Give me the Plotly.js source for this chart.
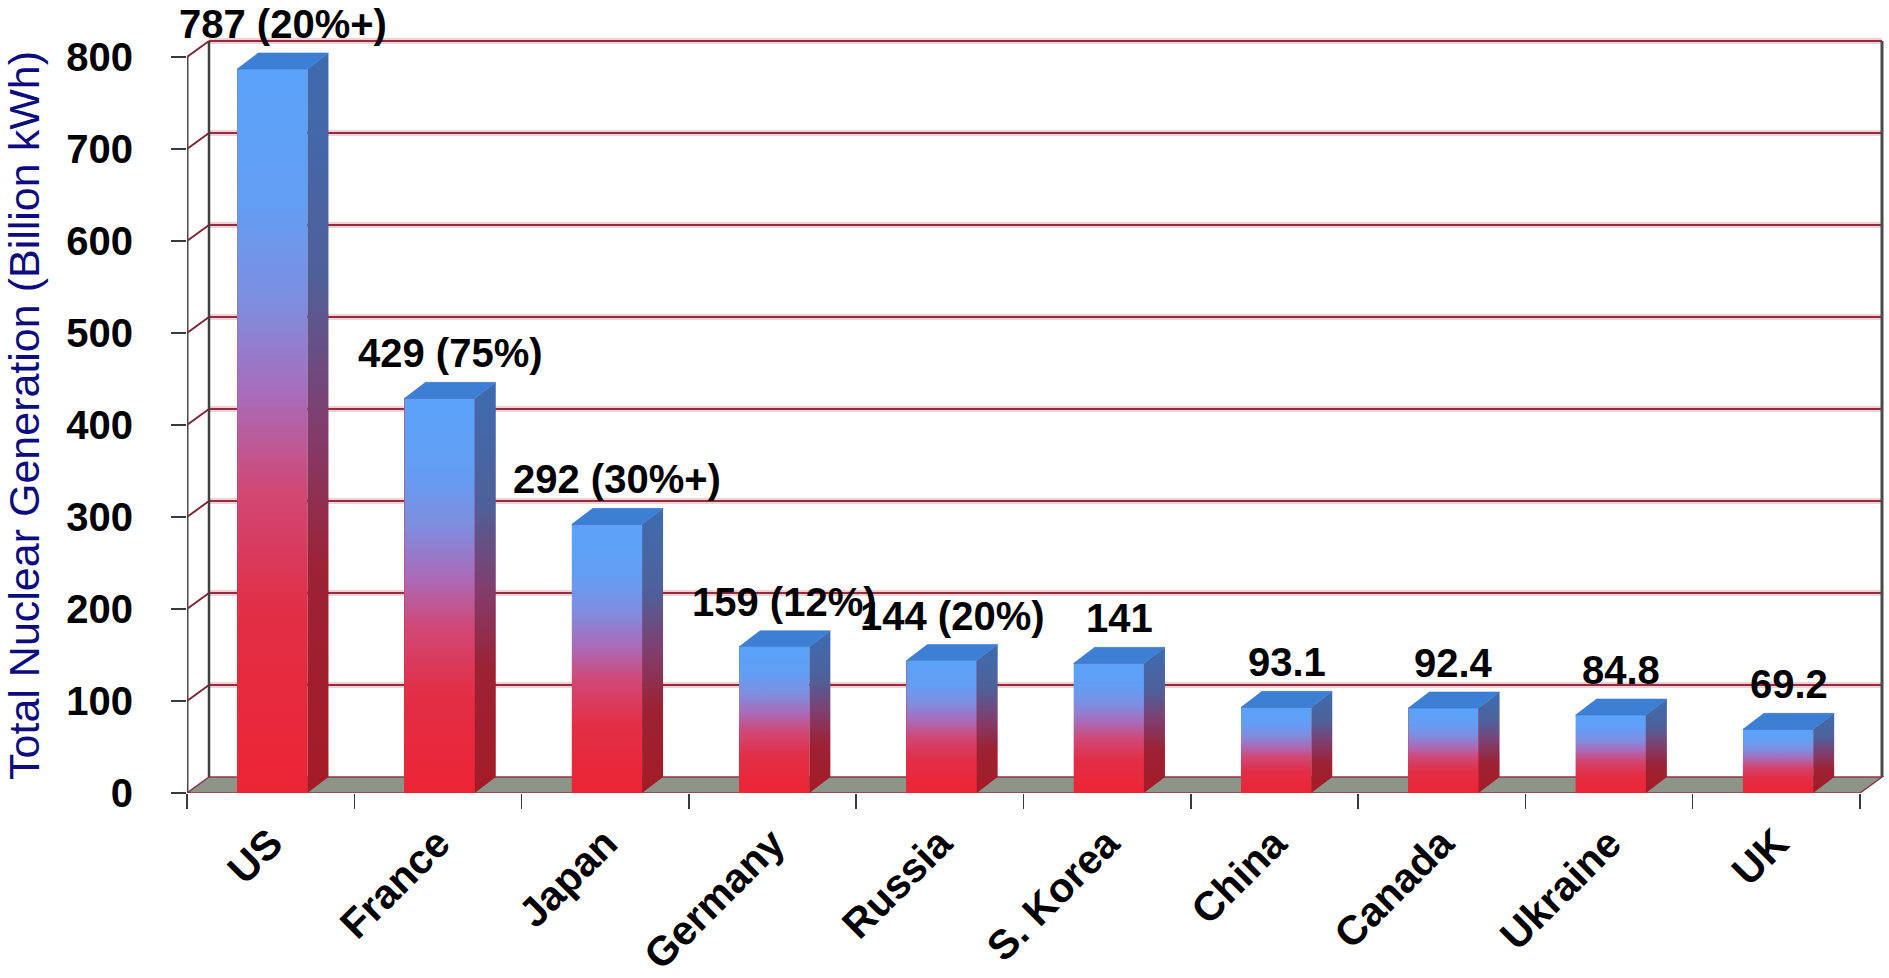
<!DOCTYPE html>
<html>
<head>
<meta charset="utf-8">
<script src="https://cdn.plot.ly/plotly-3.0.1.min.js"></script>
<style>
  html, body { margin: 0; padding: 0; background: #ffffff; }
  #chart { width: 1889px; height: 978px; }
</style>
</head>
<body>
<div id="chart"></div>
<script>
// ---- data ----
const categories = ['US', 'France', 'Japan', 'Germany', 'Russia', 'S. Korea', 'China', 'Canada', 'Ukraine', 'UK'];
const generation = [787, 429, 292, 159, 144, 141, 93.1, 92.4, 84.8, 69.2];
const valueLabels = ['787 (20%+)', '429 (75%)', '292 (30%+)', '159 (12%)', '144 (20%)', '141', '93.1', '92.4', '84.8', '69.2'];
const yTickValues = [0, 100, 200, 300, 400, 500, 600, 700, 800];
const yTitle = 'Total Nuclear Generation (Billion kWh)';

// ---- geometry / style ----
const W = 1889, H = 978;
const M = { l: 187, r: 3, t: 38, b: 185 };
const pxPerX = 167.3, pxPerY = 0.92;
const plotW = W - M.l - M.r, plotH = H - M.t - M.b;
const xRange = [-0.5, -0.5 + plotW / pxPerX];
const yRange = [0, plotH / pxPerY];
const DX = 21 / pxPerX, DY = 16 / pxPerY;     // bar depth
const WX = 22 / pxPerX, WY = 16 / pxPerY;     // wall depth
const barLeft = -0.2, barWidth = 0.42;
const yMax = yTickValues[yTickValues.length - 1];
const nCat = categories.length;

const SANS = '"Liberation Sans", Arial, sans-serif';

const frontScale = [[0, '#ec2534'], [0.25, '#e22e46'], [0.42, '#d04876'], [0.55, '#a86cba'], [0.68, '#7e8ee0'], [0.82, '#629ef4'], [1, '#5aa2fa']];
const sideScale  = [[0, '#a51b26'], [0.3, '#9c2234'], [0.5, '#803e6e'], [0.7, '#4f6099'], [1, '#3d6cb0']];
const topColor = '#3e7fd6';

const traces = [];
// genuine bar trace (front faces)
traces.push({
  type: 'bar', x: categories, y: generation,
  width: barWidth, offset: barLeft,
  marker: { color: '#e22c44', line: { width: 0 } },
  showlegend: false, hoverinfo: 'x+y'
});
// 3D faces drawn through the linear overlay axis
generation.forEach((v, i) => {
  const x0 = i + barLeft, x1 = x0 + barWidth;
  traces.push({
    type: 'scatter', mode: 'lines', xaxis: 'x2', yaxis: 'y',
    x: [x0, x1, x1, x0, x0], y: [0, 0, v, v, 0],
    fill: 'toself', line: { width: 0 },
    fillgradient: { type: 'vertical', colorscale: frontScale },
    showlegend: false, hoverinfo: 'skip'
  });
  traces.push({
    type: 'scatter', mode: 'lines', xaxis: 'x2', yaxis: 'y',
    x: [x1, x1 + DX, x1 + DX, x1, x1], y: [0, DY, v + DY, v, 0],
    fill: 'toself', line: { width: 0 },
    fillgradient: { type: 'vertical', colorscale: sideScale },
    showlegend: false, hoverinfo: 'skip'
  });
  traces.push({
    type: 'scatter', mode: 'lines', xaxis: 'x2', yaxis: 'y',
    x: [x0, x1, x1 + DX, x0 + DX, x0], y: [v, v, v + DY, v + DY, v],
    fill: 'toself', fillcolor: topColor, line: { width: 0.5, color: '#3570c4' },
    showlegend: false, hoverinfo: 'skip'
  });
});

// ---- walls, floor, gridlines ----
const shapes = [];
const xL = -0.5, xR = nCat - 0.5;
// floor
shapes.push({
  type: 'path', xref: 'x2', yref: 'y', layer: 'below',
  path: `M ${xL},0 L ${xR},0 L ${xR + WX},${WY} L ${xL + WX},${WY} Z`,
  fillcolor: '#8d9488', line: { color: '#8a3a48', width: 1.5 }
});
// grid lines (back wall + left wall)
yTickValues.forEach(v => {
  if (v === 0) return;
  shapes.push({ type: 'line', xref: 'x2', yref: 'y', layer: 'below',
    x0: xL + WX, x1: xR + WX, y0: v + WY, y1: v + WY,
    line: { color: 'rgba(232,170,178,0.55)', width: 6 } });
  shapes.push({ type: 'line', xref: 'x2', yref: 'y', layer: 'below',
    x0: xL + WX, x1: xR + WX, y0: v + WY, y1: v + WY,
    line: { color: '#8e2e3e', width: 2.2 } });
  shapes.push({ type: 'line', xref: 'x2', yref: 'y', layer: 'below',
    x0: xL, x1: xL + WX, y0: v, y1: v + WY,
    line: { color: '#7a2a36', width: 2 } });
});
// wall edges
shapes.push({ type: 'line', xref: 'x2', yref: 'y', layer: 'below',
  x0: xL, x1: xL, y0: 0, y1: yMax, line: { color: '#4a4a4a', width: 3 } });
shapes.push({ type: 'line', xref: 'x2', yref: 'y', layer: 'below',
  x0: xL + WX, x1: xL + WX, y0: WY, y1: yMax + WY, line: { color: '#3f3f3f', width: 2.5 } });
shapes.push({ type: 'line', xref: 'x2', yref: 'y', layer: 'below',
  x0: xR + WX, x1: xR + WX, y0: WY, y1: yMax + WY, line: { color: '#4a4a4a', width: 3 } });

// ---- value labels ----
const annotations = generation.map((v, i) => ({
  xref: 'x2', yref: 'y', x: i + barLeft + barWidth / 2 + DX / 2, y: v + DY,
  xanchor: 'center', yanchor: 'bottom', yshift: 5, showarrow: false,
  text: valueLabels[i],
  font: { family: SANS, size: 40, color: '#000000', weight: 'bold' }
}));

const layout = {
  width: W, height: H,
  margin: M,
  paper_bgcolor: '#ffffff', plot_bgcolor: 'rgba(0,0,0,0)',
  showlegend: false,
  xaxis: {
    type: 'category', range: xRange, tickson: 'boundaries',
    ticks: 'outside', ticklen: 15, tickwidth: 1.5, tickcolor: '#3a3a3a',
    tickangle: -45, ticklabelstandoff: 17,
    tickfont: { family: SANS, size: 41, color: '#000000', weight: 'bold' },
    showgrid: false, zeroline: false, showline: false, fixedrange: true
  },
  xaxis2: { type: 'linear', overlaying: 'x', anchor: 'y', range: xRange, visible: false, fixedrange: true },
  yaxis: {
    range: yRange, tickmode: 'array', tickvals: yTickValues,
    ticks: 'outside', ticklen: 15, tickwidth: 1.5, tickcolor: '#3a3a3a',
    ticklabelstandoff: 30,
    tickfont: { family: SANS, size: 40, color: '#000000', weight: 'bold' },
    showgrid: false, zeroline: false, showline: false, fixedrange: true,
    title: { text: yTitle, standoff: 15, font: { family: SANS, size: 43, color: '#0c0c7c' } }
  },
  shapes: shapes,
  annotations: annotations,
  bargap: 0
};

Plotly.newPlot('chart', traces, layout, { displayModeBar: false, staticPlot: true });
</script>
</body>
</html>
